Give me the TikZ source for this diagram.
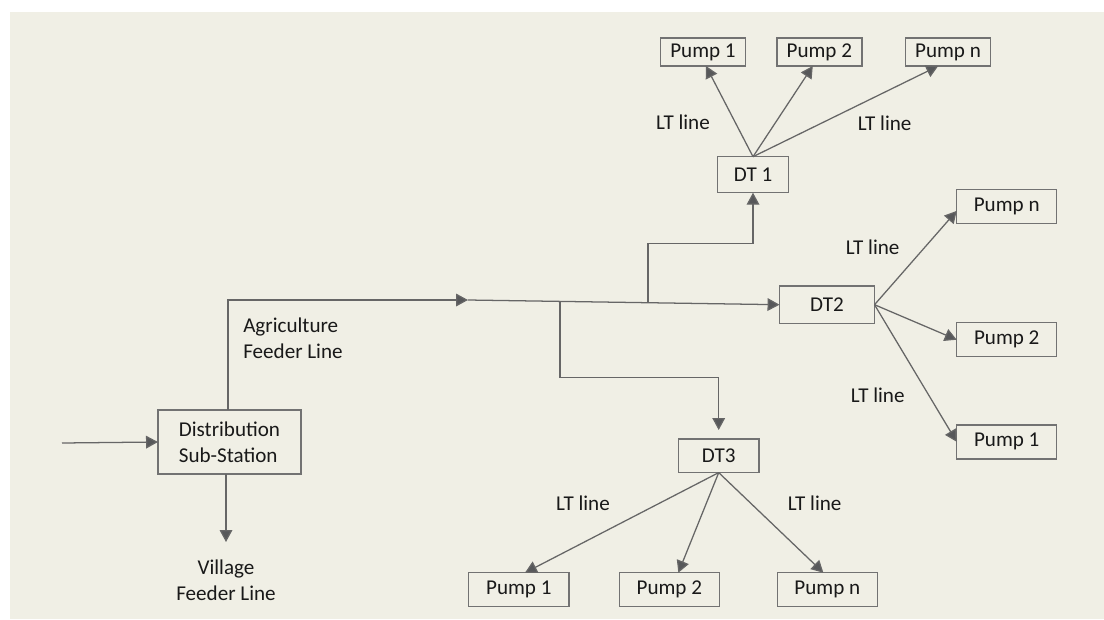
\documentclass[tikz,border=0pt]{standalone}
\usepackage{fontspec}
\setmainfont{Carlito}
\usetikzlibrary{arrows.meta}
\definecolor{haikei}{HTML}{F0EFE5}
\definecolor{sen}{HTML}{666666}
\definecolor{waku}{HTML}{727272}
\definecolor{yaji}{HTML}{57585A}
\begin{document}
\begin{tikzpicture}[x=0.025cm,y=-0.025cm,
  font=\fontsize{15}{18.5}\selectfont,
  box/.style={draw=waku,line width=1pt,inner sep=0pt,outer sep=0pt,text=black!90},
  pumpS/.style={box,minimum width=2.125cm,minimum height=0.7cm},
  pumpL/.style={box,minimum width=2.5cm,minimum height=0.85cm},
  line/.style={draw=sen,line width=0.9pt,-{Triangle[length=8.5pt,width=9pt,fill=yaji]}},
  lbl/.style={text=black!90,inner sep=0pt}]
 \useasboundingbox (0,0) rectangle (1104,619);
 \fill [haikei] (10,12) rectangle (1104,619); % 背景

 \node (dss) at (229.5,442) [box,minimum width=3.575cm,minimum height=1.6cm,align=left] {Distribution\\Sub-Station}; % 配電変電所
 \node (dt1) at (753,174.7) [box,minimum width=1.765cm,minimum height=0.9cm] {DT 1};
 \node (dt2) at (827,304.7) [box,minimum width=2.375cm,minimum height=0.94cm] {DT2};
 \node (dt3) at (718.7,455.8) [box,minimum width=2.02cm,minimum height=0.84cm] {DT3};

 \node (p11) at (703,52) [pumpS] {Pump 1}; % DT 1 のポンプ
 \node (p12) at (819.3,52) [pumpS] {Pump 2};
 \node (p1n) at (948,52) [pumpS] {Pump n};

 \node (p2n) at (1006.7,206.5) [pumpL] {Pump n}; % DT2 のポンプ
 \node (p22) at (1006.7,339.7) [pumpL] {Pump 2};
 \node (p21) at (1006.7,441.8) [pumpL] {Pump 1};

 \node (p31) at (518.8,589.7) [pumpL] {Pump 1}; % DT3 のポンプ
 \node (p32) at (669.3,589.7) [pumpL] {Pump 2};
 \node (p3n) at (827.3,589.7) [pumpL] {Pump n};

 \coordinate (in) at (62,443); % 入力
 \coordinate (vil) at (226,542); % 村落フィーダ
 \coordinate (J) at (468,300); % 農業フィーダの矢印
 \coordinate (b1) at (648,302);
 \coordinate (b3) at (560,301);

 \draw [line] (in) -- (dss.west);
 \draw [line] (dss.south -| vil) -- (vil);
 \draw [line] (dss.north -| 228,0) |- (J);
 \draw [line] (J) -- (dt2.west);
 \draw [line] (b1) -- (648,243.3) -| (dt1.south);
 \draw [line,shorten >=6.4pt] (b3) -- (560,377.3) -| (dt3.north);

 \draw [line] (dt1.north) -- (p11.-78);
 \draw [line] (dt1.north) -- (p12.-115);
 \draw [line] (dt1.north) -- (p1n.-125);

 \draw [line] (dt2.east) -- (p2n.-175);
 \draw [line] (dt2.east) -- (p22.west);
 \draw [line] (dt2.east) -- (p21.west);

 \draw [line] (dt3.south) -- (p31.70);
 \draw [line] (dt3.south) -- (p32.62);
 \draw [line] (dt3.south) -- (p3n.103);

 \node (agri) at (243,338) [lbl,anchor=west,align=left] {Agriculture\\Feeder Line};
 \node (vlab) at (226,580) [lbl,align=center] {Village\\Feeder Line};
 \node (lt1a) at (683,122) [lbl] {LT line};
 \node (lt1b) at (884.7,123.3) [lbl] {LT line};
 \node (lt2a) at (872.7,247.7) [lbl] {LT line};
 \node (lt2b) at (877.8,395) [lbl] {LT line};
 \node (lt3a) at (583,503.3) [lbl] {LT line};
 \node (lt3b) at (814.7,503.3) [lbl] {LT line};
\end{tikzpicture}
\end{document}
